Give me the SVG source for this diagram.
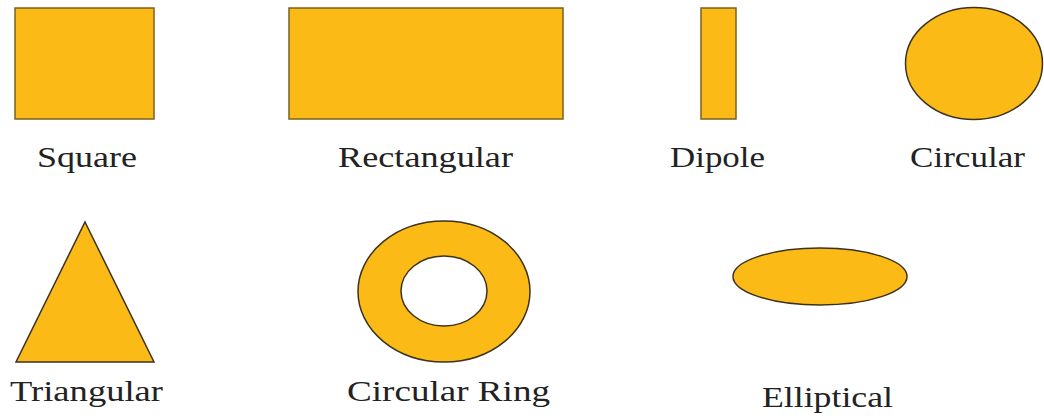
<svg xmlns="http://www.w3.org/2000/svg" width="1044" height="419" viewBox="0 0 1044 419">
<style>
.shape{fill:#FBBA16;stroke:#7a6220;stroke-width:1.5}
.dark{stroke:#3b3220}
.lbl{font-family:"Liberation Serif","Times New Roman",serif;font-size:29px;fill:#222;text-anchor:start}
</style>
<rect width="1044" height="419" fill="#fff"/>
<g id="square">
<rect class="shape" x="15" y="8" width="139" height="111"/>
<text class="lbl" x="37" y="167" textLength="100" lengthAdjust="spacingAndGlyphs">Square</text>
</g>
<g id="rectangular">
<rect class="shape" x="289" y="8" width="274" height="111"/>
<text class="lbl" x="338" y="167" textLength="175" lengthAdjust="spacingAndGlyphs">Rectangular</text>
</g>
<g id="dipole">
<rect class="shape" x="701" y="8" width="35" height="111"/>
<text class="lbl" x="670" y="167" textLength="95" lengthAdjust="spacingAndGlyphs">Dipole</text>
</g>
<g id="circular">
<ellipse class="shape dark" cx="974" cy="63.5" rx="68.5" ry="56"/>
<text class="lbl" x="910" y="167" textLength="115" lengthAdjust="spacingAndGlyphs">Circular</text>
</g>
<g id="triangular">
<polygon class="shape dark" points="85,222 154,362 16,362"/>
<text class="lbl" x="10" y="401" textLength="153" lengthAdjust="spacingAndGlyphs">Triangular</text>
</g>
<g id="circular-ring">
<path class="shape dark" fill-rule="evenodd" d="M358,291.5 a86,70.5 0 1,0 172,0 a86,70.5 0 1,0 -172,0 Z M401,291 a43,35 0 1,0 86,0 a43,35 0 1,0 -86,0 Z"/>
<text class="lbl" x="347" y="401" textLength="203" lengthAdjust="spacingAndGlyphs">Circular Ring</text>
</g>
<g id="elliptical">
<ellipse class="shape dark" cx="820" cy="276.5" rx="87" ry="28.5"/>
<text class="lbl" x="762" y="407" textLength="131" lengthAdjust="spacingAndGlyphs">Elliptical</text>
</g>
<g id="connectors"></g>
</svg>
